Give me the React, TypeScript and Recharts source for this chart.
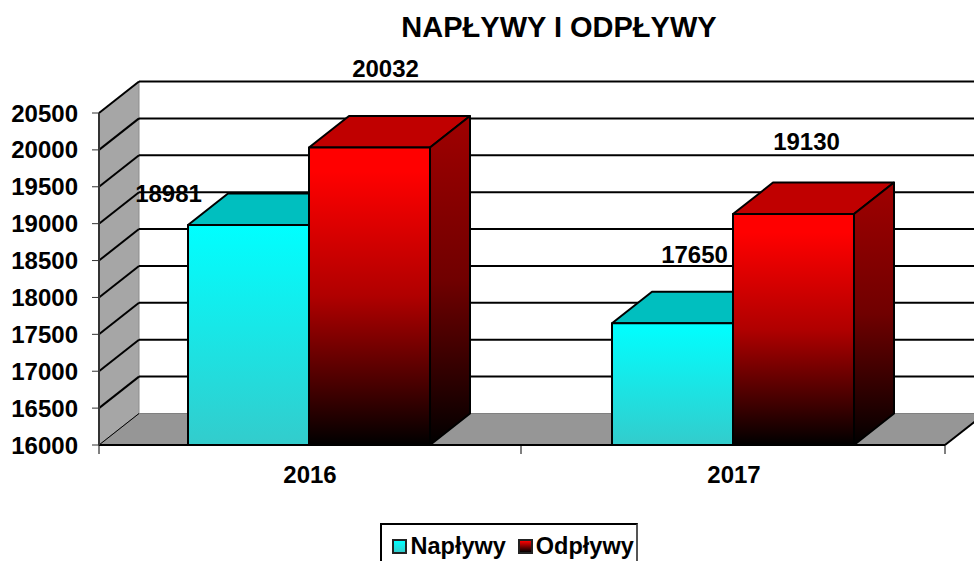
import { Bar, BarChart, CartesianGrid, LabelList, Legend, XAxis, YAxis } from 'recharts';

const years = ['2016', '2017'];
const naplywy = [18981, 17650];
const odplywy = [20032, 19130];
const yTicks = [16000, 16500, 17000, 17500, 18000, 18500, 19000, 19500, 20000, 20500];

const chartData = years.map((year, i) => ({ year, Napływy: naplywy[i], Odpływy: odplywy[i] }));

const FONT = '"Liberation Sans", Arial, sans-serif';
const LEFT = 99;
const RIGHT = 945;
const TOP = 113;
const BOTTOM = 445;
const DX = 40;
const DY = -31.5;

// data labels sit away from their bars in the original
const naplywyLabelShift = [{ x: -80, y: -32 }, { x: 22, y: -69 }];
const odplywyLabelShift = [{ x: 16, y: -79 }, { x: 13, y: -73 }];

const Walls = () => (
  <g>
    <polygon
      points={`${LEFT},${TOP} ${LEFT + DX},${TOP + DY} ${LEFT + DX},${BOTTOM + DY} ${LEFT},${BOTTOM}`}
      fill="#a6a6a6"
      stroke="#8c8c8c"
      strokeWidth={1}
    />
    <polygon
      points={`${LEFT},${BOTTOM} ${LEFT + DX},${BOTTOM + DY} ${RIGHT + DX},${BOTTOM + DY} ${RIGHT},${BOTTOM}`}
      fill="#969696"
      stroke="#808080"
      strokeWidth={1}
    />
    <line x1={RIGHT} y1={BOTTOM} x2={RIGHT + DX} y2={BOTTOM + DY} stroke="#000" strokeWidth={2} />
  </g>
);

// walls go in with the floor line so the other grid lines land on top of them
const gridLine = (props: any) => {
  const { x1, x2, y1, key } = props;
  const isFloor = Math.abs(y1 - BOTTOM) < 1;
  return (
    <g key={key}>
      {isFloor && <Walls />}
      <line x1={x1} y1={y1} x2={x1 + DX} y2={y1 + DY} stroke="#000" strokeWidth={isFloor ? 1 : 2} />
      {!isFloor && <line x1={x1 + DX} y1={y1 + DY} x2={x2 + DX} y2={y1 + DY} stroke="#000" strokeWidth={2} />}
    </g>
  );
};

// the axis ticks fall between the categories, not under them
const yearTick = (props: any) => {
  const { x, payload, index } = props;
  return (
    <g>
      {index === 0 && <line x1={LEFT} y1={BOTTOM} x2={LEFT} y2={BOTTOM + 9} stroke="#000" />}
      <line x1={x + 212} y1={BOTTOM} x2={x + 212} y2={BOTTOM + 9} stroke="#000" />
      <text
        x={x + 1}
        y={BOTTOM + 29}
        textAnchor="middle"
        dominantBaseline="central"
        fontFamily={FONT}
        fontWeight="bold"
        fontSize={24}
        fill="#000"
      >
        {payload.value}
      </text>
    </g>
  );
};

const box3d = (front: string, top: string, side: string) => (props: any) => {
  const { x, y, width, height } = props;
  const r = x + width;
  const b = y + height;
  return (
    <g stroke="#000" strokeWidth={2} strokeLinejoin="round">
      <polygon points={`${x},${y} ${x + DX},${y + DY} ${r + DX},${y + DY} ${r},${y}`} fill={top} />
      <polygon points={`${r},${y} ${r + DX},${y + DY} ${r + DX},${b + DY} ${r},${b}`} fill={side} />
      <rect x={x} y={y} width={width} height={height} fill={front} />
    </g>
  );
};

const shiftedLabel = (shifts: { x: number; y: number }[]) => (props: any) => {
  const { x, y, width, value, index } = props;
  return (
    <text
      x={x + width / 2 + shifts[index].x}
      y={y + shifts[index].y}
      textAnchor="middle"
      dominantBaseline="central"
      fontFamily={FONT}
      fontWeight="bold"
      fontSize={24}
      fill="#000"
    >
      {value}
    </text>
  );
};

const LegendBox = () => (
  <div
    style={{
      boxSizing: 'border-box',
      width: 258,
      height: 46,
      border: '2px solid #000',
      borderRightColor: '#555',
      display: 'flex',
      alignItems: 'center',
      paddingLeft: 10,
      background: '#fff',
      fontFamily: FONT,
      fontWeight: 'bold',
      fontSize: 23.5,
      color: '#000',
      lineHeight: '34px',
    }}
  >
    <span style={{ width: 11, height: 11, border: '2px solid #222', background: 'linear-gradient(#00ffff, #33cccc)', marginRight: 3.5 }} />
    <span style={{ marginRight: 12 }}>Napływy</span>
    <span style={{ width: 11, height: 11, border: '2px solid #222', background: 'linear-gradient(#ff0000, #000000)', marginRight: 3 }} />
    <span>Odpływy</span>
  </div>
);

export default function App() {
  return (
    <div style={{ position: 'fixed', left: 0, top: 0, width: 974, height: 561, overflow: 'hidden', background: '#fff' }}>
      <div
        style={{
          position: 'absolute',
          left: 0,
          width: 1118,
          top: 9,
          textAlign: 'center',
          fontFamily: FONT,
          fontWeight: 'bold',
          fontSize: 29,
          lineHeight: '36px',
          color: '#000',
        }}
      >
        NAPŁYWY I ODPŁYWY
      </div>
      <BarChart
        width={974}
        height={561}
        data={chartData}
        margin={{ top: TOP, right: 974 - RIGHT, left: 0, bottom: 20 }}
        barSize={121}
        barGap={0}
      >
        <defs>
          <linearGradient id="cyanFront" x1="0" y1="0" x2="0" y2="1">
            <stop offset="0%" stopColor="#00ffff" />
            <stop offset="100%" stopColor="#33cccc" />
          </linearGradient>
          <linearGradient id="redFront" x1="0" y1="0" x2="0" y2="1">
            <stop offset="0%" stopColor="#ff0000" />
            <stop offset="8%" stopColor="#ff0000" />
            <stop offset="50%" stopColor="#b00000" />
            <stop offset="82%" stopColor="#400000" />
            <stop offset="100%" stopColor="#000000" />
          </linearGradient>
          <linearGradient id="redSide" x1="0" y1="0" x2="0" y2="1">
            <stop offset="0%" stopColor="#a00000" />
            <stop offset="50%" stopColor="#700000" />
            <stop offset="100%" stopColor="#000000" />
          </linearGradient>
        </defs>
        <CartesianGrid horizontal={gridLine} vertical={false} />
        <XAxis
          dataKey="year"
          height={50}
          padding={{ left: -2, right: 0 }}
          interval={0}
          axisLine={{ stroke: '#000', strokeWidth: 2 }}
          tickLine={false}
          tick={yearTick}
        />
        <YAxis
          width={LEFT}
          domain={[16000, 20500]}
          ticks={yTicks}
          interval={0}
          tickSize={7}
          tickMargin={14}
          axisLine={{ stroke: '#333', strokeWidth: 2 }}
          tickLine={{ stroke: '#333', strokeWidth: 1 }}
          tick={{ fontFamily: FONT, fontWeight: 'bold', fontSize: 24, fill: '#000' }}
        />
        <Legend content={<LegendBox />} wrapperStyle={{ left: 380, top: 523, bottom: 'auto', width: 258 }} />
        <Bar
          dataKey="Napływy"
          fill="url(#cyanFront)"
          isAnimationActive={false}
          shape={box3d('url(#cyanFront)', '#00bfbf', '#00bfbf')}
        >
          <LabelList dataKey="Napływy" content={shiftedLabel(naplywyLabelShift)} />
        </Bar>
        <Bar
          dataKey="Odpływy"
          fill="url(#redFront)"
          isAnimationActive={false}
          shape={box3d('url(#redFront)', '#c00000', 'url(#redSide)')}
        >
          <LabelList dataKey="Odpływy" content={shiftedLabel(odplywyLabelShift)} />
        </Bar>
      </BarChart>
    </div>
  );
}
